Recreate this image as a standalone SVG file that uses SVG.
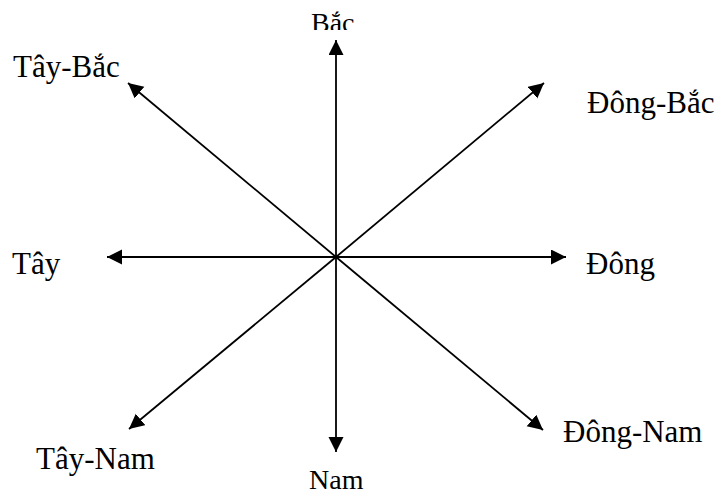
<svg xmlns="http://www.w3.org/2000/svg" width="717" height="489" viewBox="0 0 717 489">
<style>
.lbl{font-family:"Liberation Serif","Times New Roman",serif;font-size:31px;fill:#000}
.sm{font-size:28px}
.ar{stroke:#000;stroke-width:1.8;fill:none;marker-end:url(#ah)}
</style>
<defs>
<marker id="ah" markerUnits="userSpaceOnUse" markerWidth="16" markerHeight="16" refX="15" refY="7.5" orient="auto">
<path d="M0,0 L15,7.5 L0,15 z" fill="#000"/>
</marker>
<clipPath id="clipTop"><rect x="0" y="0" width="717" height="30"/></clipPath>
</defs>
<rect width="717" height="489" fill="#fff"/>
<g id="connectors">
<line class="ar" x1="336" y1="257" x2="336" y2="40"/>
<line class="ar" x1="336" y1="257" x2="336" y2="452"/>
<line class="ar" x1="336" y1="257" x2="107" y2="257"/>
<line class="ar" x1="336" y1="257" x2="566" y2="257"/>
<line class="ar" x1="336" y1="257" x2="128" y2="83"/>
<line class="ar" x1="336" y1="257" x2="544" y2="83"/>
<line class="ar" x1="336" y1="257" x2="129" y2="429"/>
<line class="ar" x1="336" y1="257" x2="543" y2="430"/>
</g>
<g id="bac" clip-path="url(#clipTop)"><text class="lbl sm" x="311" y="32">Bắc</text></g>
<g id="nam"><text class="lbl sm" x="309" y="489">Nam</text></g>
<g id="tay"><text class="lbl" x="12" y="274">Tây</text></g>
<g id="dong"><text class="lbl" x="586" y="274">Đông</text></g>
<g id="tay-bac"><text class="lbl" x="13" y="77">Tây-Bắc</text></g>
<g id="dong-bac"><text class="lbl" x="587" y="113">Đông-Bắc</text></g>
<g id="tay-nam"><text class="lbl" x="36" y="469">Tây-Nam</text></g>
<g id="dong-nam"><text class="lbl" x="563" y="442">Đông-Nam</text></g>
</svg>
